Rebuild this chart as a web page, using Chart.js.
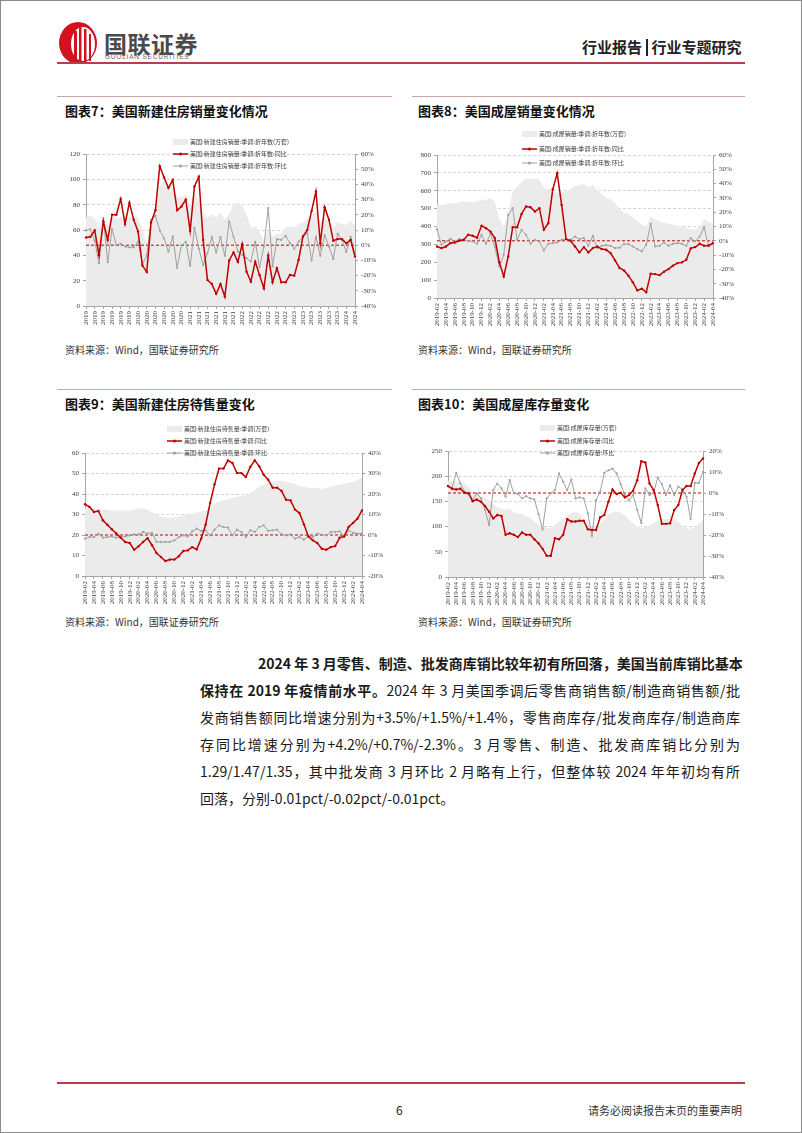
<!DOCTYPE html>
<html>
<head>
<meta charset="utf-8">
<script src="https://cdn.jsdelivr.net/npm/chart.js@4.4.1/dist/chart.umd.min.js"></script>
<style>
  html, body { margin: 0; padding: 0; background: #fff; }
  #page { position: relative; width: 802px; height: 1133px; overflow: hidden; background: #fff;
          font-family: "Noto Sans CJK SC", "Noto Sans", sans-serif; color: #1a1a1a; }
  .abs { position: absolute; white-space: nowrap; }
  canvas { position: absolute; }
  .lg { position: absolute; height: 8px; line-height: 8px; font-size: 6px; color: #3a3a3a; white-space: nowrap; }
  .lg span, .lg svg { vertical-align: middle; }
  .rule { position: absolute; height: 1px; background: #c9a5aa; }
  .ttl { position: absolute; font-size: 13px; font-weight: 700; color: #111; white-space: nowrap; }
  .src { position: absolute; font-size: 10px; color: #333; white-space: nowrap; }
  .para { position: absolute; height: 20px; line-height: 20px; font-size: 14px; color: #1a1a1a;
          text-align: justify; text-align-last: justify; white-space: nowrap; }
</style>
</head>
<body>
<div id="page">
  <div style="position:absolute;left:0;top:0;width:802px;height:1133px;box-sizing:border-box;border:1px solid #8c8c8c;"></div>

  <!-- header -->
  <svg class="abs" style="left:58px;top:21px" width="42" height="44" viewBox="0 0 42 44">
    <ellipse cx="20" cy="22" rx="19" ry="21" fill="#d3121f"/>
    <ellipse cx="25" cy="23" rx="12" ry="17" fill="#fff"/>
    <rect x="16" y="10" width="3" height="30" fill="#d3121f"/>
    <rect x="21" y="4" width="2.5" height="36" fill="#d3121f"/>
    <rect x="26" y="8" width="2.5" height="32" fill="#d3121f"/>
    <rect x="31" y="13" width="2" height="27" fill="#d3121f"/>
  </svg>
  <div class="abs" style="left:104px;top:26px;font-size:23px;font-weight:700;color:#4a4a4a;letter-spacing:0.5px">国联证券</div>
  <div class="abs" style="left:105px;top:53px;font-size:6.5px;color:#666;letter-spacing:0.8px;font-family:'Liberation Sans',sans-serif">GUOLIAN SECURITIES</div>
  <div class="abs" style="left:582px;top:36px;font-size:15px;font-weight:700;color:#222">行业报告<span style="display:inline-block;width:1.5px;height:17px;background:#222;margin:0 4px;vertical-align:-3px"></span>行业专题研究</div>
  <div class="abs" style="left:57px;top:62px;width:688px;height:2px;background:#b5404b"></div>

  <!-- chart headings -->
  <div class="rule" style="left:57px;top:96px;width:335px"></div>
  <div class="rule" style="left:412px;top:96px;width:333px"></div>
  <div class="ttl" style="left:65px;top:101px">图表7：美国新建住房销量变化情况</div>
  <div class="ttl" style="left:418px;top:101px">图表8：美国成屋销量变化情况</div>
  <div class="src" style="left:65px;top:342px">资料来源：Wind，国联证券研究所</div>
  <div class="src" style="left:418px;top:342px">资料来源：Wind，国联证券研究所</div>

  <div class="rule" style="left:57px;top:389px;width:335px"></div>
  <div class="rule" style="left:412px;top:389px;width:333px"></div>
  <div class="ttl" style="left:65px;top:394px">图表9：美国新建住房待售量变化</div>
  <div class="ttl" style="left:418px;top:394px">图表10：美国成屋库存量变化</div>
  <div class="src" style="left:65px;top:614px">资料来源：Wind，国联证券研究所</div>
  <div class="src" style="left:418px;top:614px">资料来源：Wind，国联证券研究所</div>

  <!-- paragraph -->
  <div class="para" style="left:258px;top:653px;width:482px;font-weight:700">2024 年 3 月零售、制造、批发商库销比较年初有所回落，美国当前库销比基本</div>
  <div class="para" style="left:200px;top:680px;width:540px"><b>保持在 2019 年疫情前水平。</b>2024 年 3 月美国季调后零售商销售额/制造商销售额/批</div>
  <div class="para" style="left:200px;top:707px;width:540px">发商销售额同比增速分别为+3.5%/+1.5%/+1.4%，零售商库存/批发商库存/制造商库</div>
  <div class="para" style="left:200px;top:734px;width:540px">存同比增速分别为+4.2%/+0.7%/-2.3%。3 月零售、制造、批发商库销比分别为</div>
  <div class="para" style="left:200px;top:761px;width:540px">1.29/1.47/1.35，其中批发商 3 月环比 2 月略有上行，但整体较 2024 年年初均有所</div>
  <div class="para" style="left:200px;top:788px;text-align:left;text-align-last:left">回落，分别-0.01pct/-0.02pct/-0.01pct。</div>

  <!-- footer -->
  <div class="abs" style="left:57px;top:1082px;width:688px;height:2px;background:#b5404b"></div>
  <div class="abs" style="left:396px;top:1101px;font-size:12px;color:#222">6</div>
  <div class="abs" style="left:575px;top:1102px;width:167px;font-size:11px;color:#333;text-align:right">请务必阅读报告末页的重要声明</div>
</div>

<script>
// months on the x axis
const months = [
  '2019-02','2019-03','2019-04','2019-05','2019-06','2019-07','2019-08','2019-09','2019-10','2019-11','2019-12',
  '2020-01','2020-02','2020-03','2020-04','2020-05','2020-06','2020-07','2020-08','2020-09','2020-10','2020-11','2020-12',
  '2021-01','2021-02','2021-03','2021-04','2021-05','2021-06','2021-07','2021-08','2021-09','2021-10','2021-11','2021-12',
  '2022-01','2022-02','2022-03','2022-04','2022-05','2022-06','2022-07','2022-08','2022-09','2022-10','2022-11','2022-12',
  '2023-01','2023-02','2023-03','2023-04','2023-05','2023-06','2023-07','2023-08','2023-09','2023-10','2023-11','2023-12',
  '2024-01','2024-02','2024-03','2024-04'
];

// chart 7: new home sales (万套), yoy %, mom %
const newSales = [70,71,69,62,70,64,69,69,70,70,70,71,70,60,50,62,78,95,99,95,97,86,86,88,80,88,84,73,70,72,70,74,68,73,80,82,79,72,62,63,58,52,60,55,57,57,62,63,62,65,66,69,71,75,66,70,66,62,66,65,64,67,64];
const newSalesYoy = [5.1,5.5,9.7,-6.6,15.6,3.5,20,20,30.5,14,28,16.7,9,-13.4,-17.6,15,23,52,44.6,37.6,43,23,25.5,30,9.5,38.7,45,3.5,-22.9,-25.5,-32,-25.5,-33.8,-10,-4.8,-11,0.7,-17.4,-24,-10.8,-19.6,-28.4,-6.8,-24.4,-15.2,-24.4,-24.4,-19.6,-20,-9.7,5.7,10,22.6,35.4,1.3,25,16.7,2.9,4,4,1.3,3.5,-7.5];
const newSalesMom = [9.7,10.5,2.9,-11.9,17.8,-11.2,10.5,0,0.9,-0.9,-1.5,-1.3,2.4,-12.3,-7,16.7,19.3,9.7,4.4,-4.2,5.7,-15,0,2.2,-13.6,11.4,-2.2,-13.2,-5.3,5.3,-4.8,5.3,-7,15.6,5.7,-4.2,-6.4,-8.6,-10.8,2.2,-14.5,-0.9,24.4,-14,4,3.5,6.2,1.3,-2.4,2.4,5.3,7.9,-10,5.7,-7,6.6,-0.9,-9,7.5,3.5,-4.4,5.5,-6.4];
const newSalesNames = ['美国:新建住房销量:季调:折年数(万套)','美国:新建住房销量:季调:折年数:同比','美国:新建住房销量:季调:折年数:环比'];

// chart 8: existing home sales
const exSales = [525,520,525,530,530,535,540,540,535,540,545,550,560,540,440,400,470,590,620,650,670,665,670,660,620,600,595,590,585,600,605,630,630,640,620,635,600,580,560,550,530,500,475,470,450,430,410,400,455,440,430,420,415,410,405,400,390,385,380,400,440,425,415];
const exSalesYoy = [-4,-5.1,-4,-1.6,-1.2,0,0.7,4.2,3.5,2.1,10.5,8.8,6.5,1.9,-15,-24.9,-10.9,9.5,9.5,18.8,24,23.5,20.5,22.8,7.7,12.3,36,47.2,25,1.2,0,-4,-8.1,-4.4,-8.1,-5.1,-4,-5.8,-6.3,-8.6,-13.7,-19,-20.7,-24.4,-29,-34.7,-33.5,-36,-23,-23.3,-24,-21.6,-19.8,-17.4,-15.6,-15.1,-13.3,-5.3,-4.4,-2.1,-3.5,-3.3,-1.6];
const exSalesMom = [8.1,-2.8,-0.5,1.4,-0.5,1.2,0.7,0,-0.5,-2.1,4.2,-2.1,4.9,-4.4,-17.9,-9.8,18.1,22.8,0.7,7.7,4.2,-2.1,0.7,-0.5,-6.7,-2.3,-1.6,-1.2,0.7,1.2,0.7,3,1.2,2.1,-3.5,3.5,-5.1,-3.5,-3,-3.5,-5.1,-4.9,-2.3,-2.3,-4,-5.8,-7.4,-2.8,11.9,-4,-3.5,-1.2,-3.5,-2.1,-1.6,-2.1,-3.5,1.9,-0.5,3,9.5,-4,-2.1];
const exSalesNames = ['美国:成屋销量:季调:折年数(万套)','美国:成屋销量:季调:折年数:同比','美国:成屋销量:季调:折年数:环比'];

// chart 9: new homes for sale
const newInv = [33,33,33,32.5,32.5,32.5,32,32,32,32,32,32.5,33,33,32.5,31,30,29,28.5,28.5,28.5,29,29.5,30,30.5,31,31.5,32,34,35.5,36.5,37,37.5,38,38.5,39,39.5,40.5,42,43.5,44.5,45.5,46,46.5,46.5,46,45.5,45,44,43.5,43,43,43,42.5,43,43.5,44,44.5,45,45.5,46,47,48];
const newInvYoy = [15,13.7,11.2,11.7,7.2,5,2.8,0.7,-1.3,-3.4,-3.9,-7.2,-5.5,-3.4,-1.5,-5,-8.8,-10.7,-12.7,-12,-12,-10.4,-7.8,-7.5,-5.9,-7,-1.8,5,15.6,24.7,32.4,32.4,36.4,35.1,30.2,30.2,28.3,33.2,36.4,33.5,29.4,27,23.1,23.1,21.5,17.2,16.9,12.4,10.7,5.2,-0.7,-2.6,-3.9,-6.7,-7.2,-5.9,-5.4,-1.3,-0.7,3.9,5.9,8,12];
const newInvMom = [-1.8,-1,-1,0.7,-1.3,-1,-0.7,-1.3,-1,-0.7,-0.2,0.3,0.3,1.5,0.7,1,-3.4,-3.4,-3.4,-3.4,-2.6,-1,-0.2,-0.7,1.8,3.1,2,2.3,-0.2,2.6,4.7,3.9,3.6,-0.2,2.6,1.5,-1,2.3,1.5,3.9,4.7,2,2.3,2.6,0.3,-0.2,0.3,-1.8,-1,-2.3,-0.7,-1,0.7,0.2,-0.2,1.5,1.5,1.8,-0.7,2.3,1,0.7,0.7];
const newInvNames = ['美国:新建住房待售量:季调(万套)','美国:新建住房待售量:季调:同比','美国:新建住房待售量:季调:环比'];

// chart 10: existing home inventory
const exInv = [191,190,189,188,185,178,170,165,161,157,153,145,138,135,133,136,128,126,125,121,117,110,104,100,98,97,103,110,116,122,127,130,125,113,104,100,97,105,115,124,128,130,128,122,114,106,100,97,99,103,108,111,114,115,116,114,110,101,97,95,99,105,113];
const exInvYoy = [3.3,2,1.7,2,0.1,-0.2,-3.9,-3.1,-4.2,-6.2,-8.9,-12.1,-10.5,-10.9,-19.9,-19.2,-19.9,-21,-18.8,-19.9,-19.9,-22,-23.9,-26.6,-29.9,-29.9,-21.5,-22,-19.9,-12.5,-13.6,-13.6,-13.2,-13.2,-17.3,-17.6,-17.6,-11.6,-10.5,-4.2,1.7,-0.5,0.1,-2.1,-1,1.1,6.1,15.1,14.5,4.5,1.4,-5.7,-14.7,-14.7,-14.4,-8.1,-5.7,1.4,3.3,3.3,9.3,14.3,16.4];
const exInvMom = [3.3,2.6,9.6,4.5,0.6,0.1,-3.4,-0.2,-2.6,-8.1,-15.2,1.4,4.5,2.2,-1.8,6.1,-0.2,-0.5,-2.6,-1.5,-2.6,-3,-10,-17.3,-2.6,-0.2,1.4,9.3,5.3,1.4,6.4,-2.6,-2.1,-2.6,-9.7,-20.5,-3.4,0.6,9.6,10.8,11.6,9.3,4.2,-1,-3.4,-1,-8.1,-14.4,2.2,-1,0.1,7.3,4.2,-1,3.7,-1,3,1.7,-1.8,-12.5,4.8,4.8,10];
const exInvNames = ['美国:成屋库存量(万套)','美国:成屋库存量:同比','美国:成屋库存量:环比'];

const AREA = '#ebebeb';
const RED = '#c00000';
const GRAY = '#a0a0a0';
const AXIS = '#a6a6a6';

Chart.defaults.font.family = '"Liberation Serif", serif';
Chart.defaults.font.size = 7;
Chart.defaults.color = '#404040';

const page = document.getElementById('page');

// dashed red line at 0% of the right axis, drawn just above the area
const zeroLine = {
  id: 'zeroLine',
  afterDatasetDraw(chart, args) {
    if (args.index !== 0) return;
    const a = chart.chartArea, ctx = chart.ctx;
    const py = chart.scales.y1.getPixelForValue(0);
    ctx.save();
    ctx.strokeStyle = RED;
    ctx.lineWidth = 1;
    ctx.setLineDash([3, 2]);
    ctx.beginPath();
    ctx.moveTo(a.left, py);
    ctx.lineTo(a.right, py);
    ctx.stroke();
    ctx.restore();
  }
};

function buildLegend(names, x, ys) {
  names.forEach((n, k) => {
    const row = document.createElement('div');
    row.className = 'lg';
    row.style.left = x + 'px';
    row.style.top = (ys[k] - 4) + 'px';
    let sym;
    if (k === 0) {
      sym = '<span style="display:inline-block;width:15px;height:6px;background:' + AREA + '"></span>';
    } else {
      const c = k === 1 ? RED : GRAY;
      const w = k === 1 ? 1.5 : 1;
      sym = '<svg width="15" height="6"><line x1="0" y1="3" x2="15" y2="3" stroke="' + c + '" stroke-width="' + w + '"/><circle cx="7.5" cy="3" r="1.5" fill="' + c + '"/></svg>';
    }
    row.innerHTML = sym + '<span style="margin-left:2px">' + n + '</span>';
    page.appendChild(row);
  });
}

function buildChart(cfg) {
  const box = cfg.box, plot = cfg.plot;
  const cv = document.createElement('canvas');
  cv.width = box.w;
  cv.height = box.h;
  cv.style.left = box.x + 'px';
  cv.style.top = box.y + 'px';
  page.appendChild(cv);

  new Chart(cv.getContext('2d'), {
    type: 'line',
    data: {
      labels: months,
      datasets: [
        { label: cfg.names[0], data: cfg.area, yAxisID: 'y', fill: 'origin', backgroundColor: AREA,
          borderColor: 'rgba(0,0,0,0)', borderWidth: 0, pointRadius: 0, order: 3 },
        { label: cfg.names[1], data: cfg.yoy, yAxisID: 'y1', borderColor: RED, backgroundColor: RED,
          borderWidth: 1.5, pointRadius: 1.2, pointBorderWidth: 0, fill: false, order: 1 },
        { label: cfg.names[2], data: cfg.mom, yAxisID: 'y1', borderColor: GRAY, backgroundColor: GRAY,
          borderWidth: 1, pointRadius: 1.1, pointBorderWidth: 0, fill: false, order: 2 }
      ]
    },
    options: {
      responsive: false,
      animation: false,
      events: [],
      layout: { padding: { top: plot.t - box.y, left: 0, right: 0, bottom: 0 } },
      plugins: { legend: { display: false }, tooltip: { enabled: false } },
      scales: {
        x: {
          afterFit: s => { s.height = box.y + box.h - plot.b; },
          grid: { drawOnChartArea: false, drawTicks: true, tickLength: 3,
                  tickColor: c => (c.index % 2 === 0 ? AXIS : 'rgba(0,0,0,0)') },
          border: { color: AXIS },
          ticks: {
            autoSkip: false, maxRotation: 90, minRotation: 90, padding: 2,
            callback: function (v, i) {
              if (i % 2) return '';
              const l = this.getLabelForValue(v);
              return cfg.yearOnly ? l.slice(0, 4) : l;
            }
          }
        },
        y: {
          position: 'left', min: cfg.left[0], max: cfg.left[1],
          afterFit: s => { s.width = plot.l - box.x; },
          ticks: { stepSize: cfg.left[2], padding: 3 },
          grid: { color: '#d6d6d6', drawTicks: true, tickLength: 3, tickColor: AXIS, tickBorderDash: [] },
          border: { color: AXIS, dash: [3, 2] }
        },
        y1: {
          position: 'right', min: cfg.right[0], max: cfg.right[1],
          afterFit: s => { s.width = box.x + box.w - plot.r; },
          ticks: { stepSize: 10, padding: 3, callback: v => v + '%' },
          grid: { drawOnChartArea: false, drawTicks: true, tickLength: 3, tickColor: AXIS },
          border: { color: AXIS }
        }
      }
    },
    plugins: [zeroLine]
  });

  buildLegend(cfg.names, cfg.legX, cfg.legY);
}

buildChart({
  box: { x: 60, y: 125, w: 325, h: 210 }, plot: { l: 86, t: 154, r: 355, b: 306 },
  area: newSales, yoy: newSalesYoy, mom: newSalesMom, names: newSalesNames,
  left: [0, 120, 20], right: [-40, 60], yearOnly: true,
  legX: 173, legY: [142, 154, 166]
});

buildChart({
  box: { x: 410, y: 125, w: 330, h: 210 }, plot: { l: 437, t: 155, r: 713, b: 298 },
  area: exSales, yoy: exSalesYoy, mom: exSalesMom, names: exSalesNames,
  left: [0, 800, 100], right: [-40, 60], yearOnly: false,
  legX: 522, legY: [134, 149, 163]
});

buildChart({
  box: { x: 60, y: 420, w: 325, h: 185 }, plot: { l: 85, t: 453, r: 362, b: 576 },
  area: newInv, yoy: newInvYoy, mom: newInvMom, names: newInvNames,
  left: [0, 60, 10], right: [-20, 40], yearOnly: false,
  legX: 167, legY: [429, 441, 453]
});

buildChart({
  box: { x: 410, y: 420, w: 330, h: 185 }, plot: { l: 448, t: 451, r: 703, b: 577 },
  area: exInv, yoy: exInvYoy, mom: exInvMom, names: exInvNames,
  left: [0, 250, 50], right: [-40, 20], yearOnly: false,
  legX: 540, legY: [428, 441, 453]
});
</script>
</body>
</html>
